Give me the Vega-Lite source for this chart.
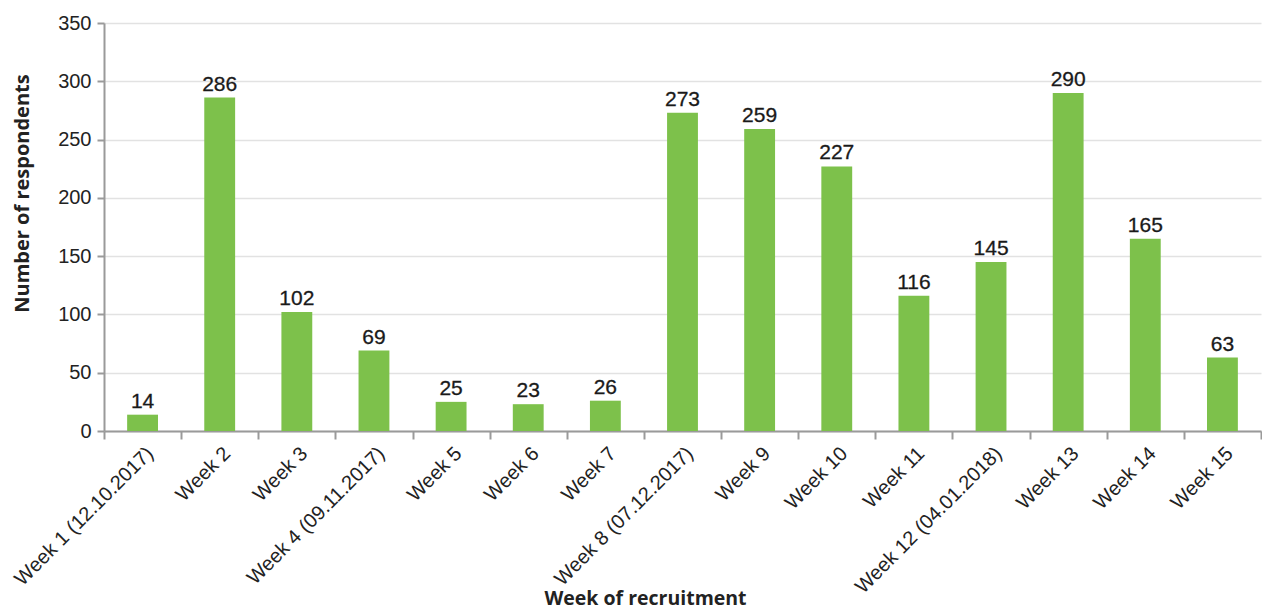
{
  "$schema": "https://vega.github.io/schema/vega-lite/v6.json",
  "width": 1157,
  "height": 408,
  "autosize": {"type": "none"},
  "padding": {"left": 104, "top": 23, "right": 1, "bottom": 179},
  "background": "white",
  "data": {
    "values": [
      {"week": "Week 1 (12.10.2017)", "n": 14},
      {"week": "Week 2", "n": 286},
      {"week": "Week 3", "n": 102},
      {"week": "Week 4 (09.11.2017)", "n": 69},
      {"week": "Week 5", "n": 25},
      {"week": "Week 6", "n": 23},
      {"week": "Week 7", "n": 26},
      {"week": "Week 8 (07.12.2017)", "n": 273},
      {"week": "Week 9", "n": 259},
      {"week": "Week 10", "n": 227},
      {"week": "Week 11", "n": 116},
      {"week": "Week 12 (04.01.2018)", "n": 145},
      {"week": "Week 13", "n": 290},
      {"week": "Week 14", "n": 165},
      {"week": "Week 15", "n": 63}
    ]
  },
  "config": {
    "view": {"stroke": null},
    "axis": {
      "labelFont": "Liberation Sans",
      "labelFontSize": 20,
      "labelColor": "#222",
      "titleFont": "Open Sans",
      "titleFontSize": 19.5,
      "titleFontWeight": "bold",
      "titleColor": "#222",
      "domainColor": "#9a9a9a",
      "tickColor": "#9a9a9a",
      "domainWidth": 2,
      "tickWidth": 2
    }
  },
  "encoding": {
    "x": {
      "field": "week",
      "type": "nominal",
      "sort": null,
      "scale": {"paddingInner": 0, "paddingOuter": 0},
      "axis": {
        "title": "Week of recruitment",
        "labelAngle": -45,
        "labelLimit": 0,
        "tickBand": "extent",
        "tickSize": 8,
        "labelPadding": 4,
        "titleX": 541,
        "titleY": 173,
        "titleBaseline": "alphabetic"
      }
    },
    "y": {
      "field": "n",
      "type": "quantitative",
      "scale": {"domain": [0, 350]},
      "axis": {
        "title": "Number of respondents",
        "values": [0, 50, 100, 150, 200, 250, 300, 350],
        "gridColor": "#e2e2e2",
        "gridWidth": 1.5,
        "tickSize": 7,
        "labelPadding": 6,
        "titleFontSize": 20,
        "titleX": -82,
        "titleY": 170,
        "titleBaseline": "middle"
      }
    }
  },
  "layer": [
    {"mark": {"type": "bar", "color": "#7dc14b", "width": {"band": 0.4}}},
    {
      "mark": {"type": "text", "baseline": "bottom", "dy": -3, "font": "Liberation Sans", "fontSize": 21, "color": "#1a1a1a", "stroke": "#1a1a1a", "strokeWidth": 0.3},
      "encoding": {"text": {"field": "n", "type": "quantitative"}}
    }
  ]
}
